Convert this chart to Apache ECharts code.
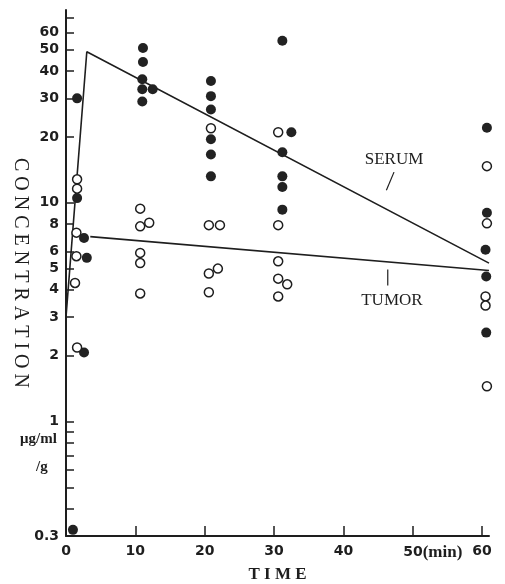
<!DOCTYPE html>
<html>
<head>
<meta charset="utf-8">
<script src="https://cdn.jsdelivr.net/npm/echarts@6/dist/echarts.min.js"></script>
<style>
  html, body { margin: 0; padding: 0; background: #fff; }
  #chart { width: 505px; height: 584px; }
</style>
</head>
<body>
<div id="chart"></div>
<script>
// filled dots = serum, open circles = tumor ; [min, ug/ml or ug/g]
const serumPoints = [
  [1.0, 0.32], [1.6, 30], [1.6, 10.5], [2.6, 6.9], [3.0, 5.6], [2.6, 2.07],
  [11.1, 51], [11.1, 44], [11.0, 36.7], [11.0, 33], [12.5, 33], [11.0, 29],
  [20.9, 36], [20.9, 30.7], [20.9, 26.7], [20.9, 19.5], [20.9, 16.6], [20.9, 13.2],
  [31.2, 55], [32.5, 21], [31.2, 17], [31.2, 13.2], [31.2, 11.8], [31.2, 9.3],
  [60.7, 22], [60.7, 9.0], [60.5, 6.1], [61.9, 6.4], [60.6, 4.6], [60.6, 2.55]
];
const tumorPoints = [
  [1.6, 12.8], [1.6, 11.6], [1.5, 7.3], [1.5, 5.7], [1.3, 4.3], [1.6, 2.18],
  [10.7, 9.4], [10.7, 7.8], [12.0, 8.1], [10.7, 5.9], [10.7, 5.3], [10.7, 3.85],
  [20.9, 21.9], [20.6, 7.9], [22.2, 7.9], [21.9, 5.0], [20.6, 4.75], [20.6, 3.9],
  [30.6, 21], [30.6, 7.9], [30.6, 5.4], [30.6, 4.5], [31.9, 4.24], [30.6, 3.73],
  [60.7, 14.7], [60.7, 8.05], [60.5, 3.73], [61.9, 3.85], [60.5, 3.39], [60.7, 1.45]
];

// fitted lines
const serumLine = [[0, 3.0], [3, 49], [61, 5.3]];
const tumorLine = [[3.5, 7.0], [61, 4.9]];

// axis ticks / labels
const xLabels = [0, 10, 20, 30, 40, 50, 60];
const yLabels = [0.3, 1, 2, 3, 4, 5, 6, 8, 10, 20, 30, 40, 50, 60];
const yTicks = [0.3, 0.4, 0.5, 0.6, 0.7, 0.8, 0.9, 1, 2, 3, 4, 5, 6, 8, 10, 20, 30, 40, 50, 60, 70];
const yMin = 0.3, yMax = 76;

// annotation anchors (data coords)
const serumTag = { text: 'SERUM', at: [47.3, 15.8], lead: [[47.3, 13.8], [46.2, 11.4]] };
const tumorTag = { text: 'TUMOR', at: [47.0, 3.58], lead: [[46.4, 4.96], [46.4, 4.19]] };

const ink = '#1e1e1e';
const serif = '"Liberation Serif", serif';
const digits = '"DejaVu Sans", sans-serif';

const chart = echarts.init(document.getElementById('chart'));

const option = {
  animation: false,
  backgroundColor: '#fff',
  grid: { left: 66, right: 16, top: 10, bottom: 48, outerBoundsMode: 'none' },
  xAxis: {
    type: 'value',
    min: 0,
    max: 61,
    name: 'T I M E',
    nameLocation: 'middle',
    nameGap: 30,
    nameMoveOverlap: false,
    nameTextStyle: { fontFamily: serif, fontSize: 17, fontWeight: 'bold', color: ink },
    axisLine: { show: true, onZero: false, lineStyle: { color: ink, width: 2 } },
    axisTick: { show: true, inside: true, length: 10, customValues: xLabels, lineStyle: { color: ink, width: 1.5 } },
    axisLabel: {
      customValues: xLabels,
      margin: 8,
      color: ink,
      fontFamily: digits,
      fontWeight: 'bold',
      fontSize: 14,
      formatter: v => v === 50 ? '{n|50}{m|(min)}' : String(v),
      rich: {
        n: { fontFamily: digits, fontWeight: 'bold', fontSize: 14, color: ink, padding: [0, 0, 0, 40] },
        m: { fontFamily: serif, fontWeight: 'bold', fontSize: 17, color: ink }
      }
    },
    splitLine: { show: false }
  },
  yAxis: [
    {
      // data axis (log scale)
      type: 'log',
      logBase: 10,
      min: yMin,
      max: yMax,
      axisLine: { show: false },
      axisTick: { show: false },
      axisLabel: { show: false },
      splitLine: { show: false }
    },
    {
      // same scale, in log10 units, only for drawing the irregular ticks
      type: 'value',
      position: 'left',
      min: Math.log10(yMin),
      max: Math.log10(yMax),
      name: 'C O N C E N T R A T I O N',
      nameLocation: 'middle',
      nameRotate: -90,
      nameGap: 36,
      nameMoveOverlap: false,
      nameTextStyle: { fontFamily: serif, fontSize: 20, color: ink },
      axisLine: { show: true, onZero: false, lineStyle: { color: ink, width: 2 } },
      axisTick: {
        show: true, inside: true, length: 8,
        customValues: yTicks.map(v => Math.log10(v)),
        lineStyle: { color: ink, width: 1.5 }
      },
      axisLabel: {
        customValues: yLabels.map(v => Math.log10(v)),
        margin: 7,
        color: ink,
        fontFamily: digits,
        fontWeight: 'bold',
        fontSize: 14,
        formatter: v => String(+Math.pow(10, v).toFixed(1))
      },
      splitLine: { show: false }
    }
  ],
  series: [
    {
      name: 'Serum line',
      type: 'line',
      yAxisIndex: 0,
      data: serumLine,
      symbol: 'none',
      lineStyle: { color: ink, width: 1.6 },
      z: 2
    },
    {
      name: 'Tumor line',
      type: 'line',
      yAxisIndex: 0,
      data: tumorLine,
      symbol: 'none',
      lineStyle: { color: ink, width: 1.6 },
      z: 2
    },
    {
      name: 'Serum leader',
      type: 'line',
      data: serumTag.lead,
      symbol: 'none',
      lineStyle: { color: ink, width: 1.2 }
    },
    {
      name: 'Tumor leader',
      type: 'line',
      data: tumorTag.lead,
      symbol: 'none',
      lineStyle: { color: ink, width: 1.2 }
    },
    {
      name: 'SERUM',
      type: 'scatter',
      yAxisIndex: 0,
      data: serumPoints,
      symbol: 'circle',
      symbolSize: 10,
      itemStyle: { color: '#222', opacity: 1 },
      z: 3
    },
    {
      name: 'TUMOR',
      type: 'scatter',
      yAxisIndex: 0,
      data: tumorPoints,
      symbol: 'circle',
      symbolSize: 9,
      itemStyle: { color: '#fff', borderColor: ink, borderWidth: 1.5, opacity: 1 },
      z: 4
    }
  ]
};

chart.setOption(option);

// text annotations placed through the grid's scales
function tag(t) {
  const p = chart.convertToPixel({ xAxisIndex: 0, yAxisIndex: 0 }, t.at);
  return {
    type: 'text',
    x: p[0],
    y: p[1],
    style: {
      text: t.text,
      fill: ink,
      font: '17px "Liberation Serif", serif',
      align: 'center',
      verticalAlign: 'middle'
    }
  };
}

chart.setOption({
  graphic: [
    tag(serumTag),
    tag(tumorTag),
    {
      type: 'text', left: 20, top: 432,
      style: { text: 'μg/ml', fill: ink, font: 'bold 15px "Liberation Serif", serif' }
    },
    {
      type: 'text', left: 36, top: 460,
      style: { text: '/g', fill: ink, font: 'bold 15px "Liberation Serif", serif' }
    }
  ]
});
</script>
</body>
</html>
